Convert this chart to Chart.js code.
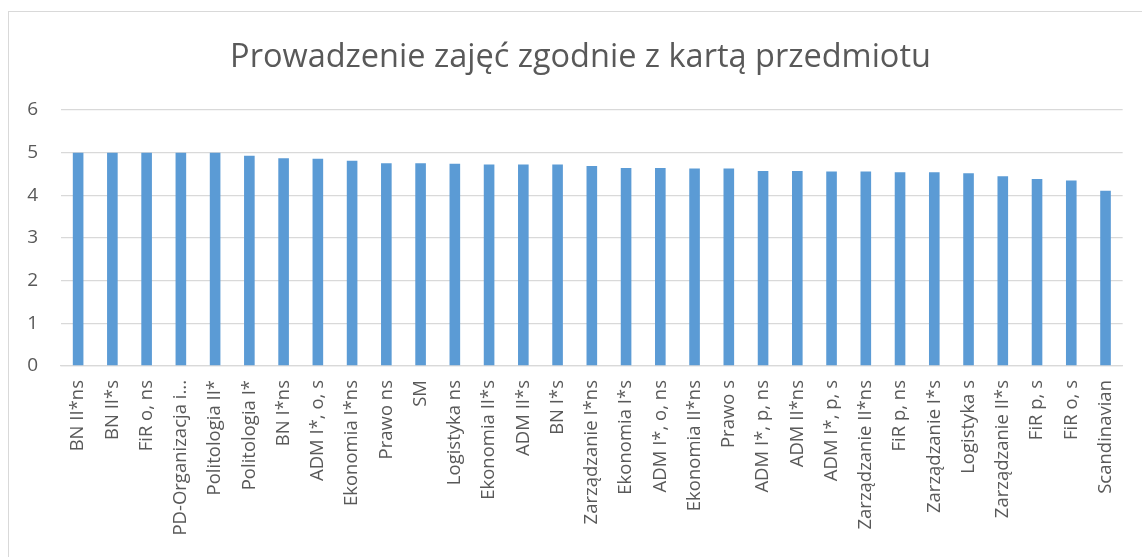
<!DOCTYPE html>
<html>
<head>
<meta charset="utf-8">
<script src="https://cdn.jsdelivr.net/npm/chart.js@4"></script>
<style>
  html, body { margin: 0; padding: 0; background: #fff; overflow: hidden; }
  #wrap { position: relative; width: 1142px; height: 557px; }
  #frame { position: absolute; left: 8px; top: 11px; width: 1200px; height: 600px; border: 1px solid #d9d9d9; }
  canvas { position: absolute; left: 0; top: 0; }
</style>
</head>
<body>
<div id="wrap">
  <div id="frame"></div>
  <canvas id="chart" width="1142" height="557"></canvas>
</div>
<script>
// kierunki / grupy
const categories = [
    'BN II*ns', 'BN II*s', 'FiR o, ns', 'PD-Organizacja i...', 'Politologia II*',
    'Politologia I*', 'BN I*ns', 'ADM I*, o, s', 'Ekonomia I*ns', 'Prawo ns',
    'SM', 'Logistyka ns', 'Ekonomia II*s', 'ADM II*s', 'BN I*s',
    'Zarządzanie I*ns', 'Ekonomia I*s', 'ADM I*, o, ns', 'Ekonomia II*ns', 'Prawo s',
    'ADM I*, p, ns', 'ADM II*ns', 'ADM I*, p, s', 'Zarządzanie II*ns', 'FiR p, ns',
    'Zarządzanie I*s', 'Logistyka s', 'Zarządzanie II*s', 'FiR p, s', 'FiR o, s',
    'Scandinavian'
];

// średnie oceny
const values = [
    5.00, 5.00, 5.00, 5.00, 5.00,
    4.93, 4.87, 4.86, 4.81, 4.75,
    4.75, 4.74, 4.72, 4.72, 4.72,
    4.69, 4.64, 4.64, 4.63, 4.63,
    4.57, 4.57, 4.56, 4.56, 4.54,
    4.54, 4.52, 4.45, 4.38, 4.35,
    4.11
];

const yTicks = [0, 1, 2, 3, 4, 5, 6];

// tytuł wyśrodkowany względem ramki, nie całego canvasu
const shiftTitle = {
    id: 'shiftTitle',
    afterLayout(chart) {
        if (chart.titleBlock) {
            chart.titleBlock.left = 36;
            chart.titleBlock.right = 1125;
        }
    }
};

const ctx = document.getElementById('chart').getContext('2d');
const chart = new Chart(ctx, {
    type: 'bar',
    data: {
        labels: categories,
        datasets: [{
            data: values,
            backgroundColor: '#5b9bd5',
            borderWidth: 0,
            barPercentage: 0.31,
            categoryPercentage: 1.0
        }]
    },
    options: {
        responsive: false,
        animation: false,
        layout: { padding: { left: 0, right: 17, top: 0, bottom: 0 } },
        plugins: {
            legend: { display: false },
            tooltip: { enabled: false },
            title: {
                display: true,
                text: 'Prowadzenie zajęć zgodnie z kartą przedmiotu',
                color: '#595959',
                font: { family: 'Open Sans', size: 32.5, weight: 'normal' },
                padding: { top: 38, bottom: 33 }
            }
        },
        scales: {
            x: {
                grid: { display: false, drawTicks: false },
                border: { display: true, color: '#d9d9d9', width: 1.3 },
                ticks: {
                    color: '#595959',
                    font: { family: 'Open Sans', size: 18.5 },
                    minRotation: 90,
                    maxRotation: 90,
                    autoSkip: false,
                    padding: 14
                },
                afterFit: function(scale) { scale.height = 191; }
            },
            y: {
                min: 0,
                max: 6,
                afterBuildTicks: function(scale) {
                    scale.ticks = yTicks.map(v => ({ value: v }));
                },
                grid: { color: '#d9d9d9', lineWidth: 1.3, drawTicks: false },
                border: { display: false },
                ticks: {
                    color: '#595959',
                    font: { family: 'Open Sans', size: 19 },
                    padding: 23
                },
                afterFit: function(scale) { scale.width = 61; }
            }
        }
    },
    plugins: [shiftTitle]
});
</script>
</body>
</html>
